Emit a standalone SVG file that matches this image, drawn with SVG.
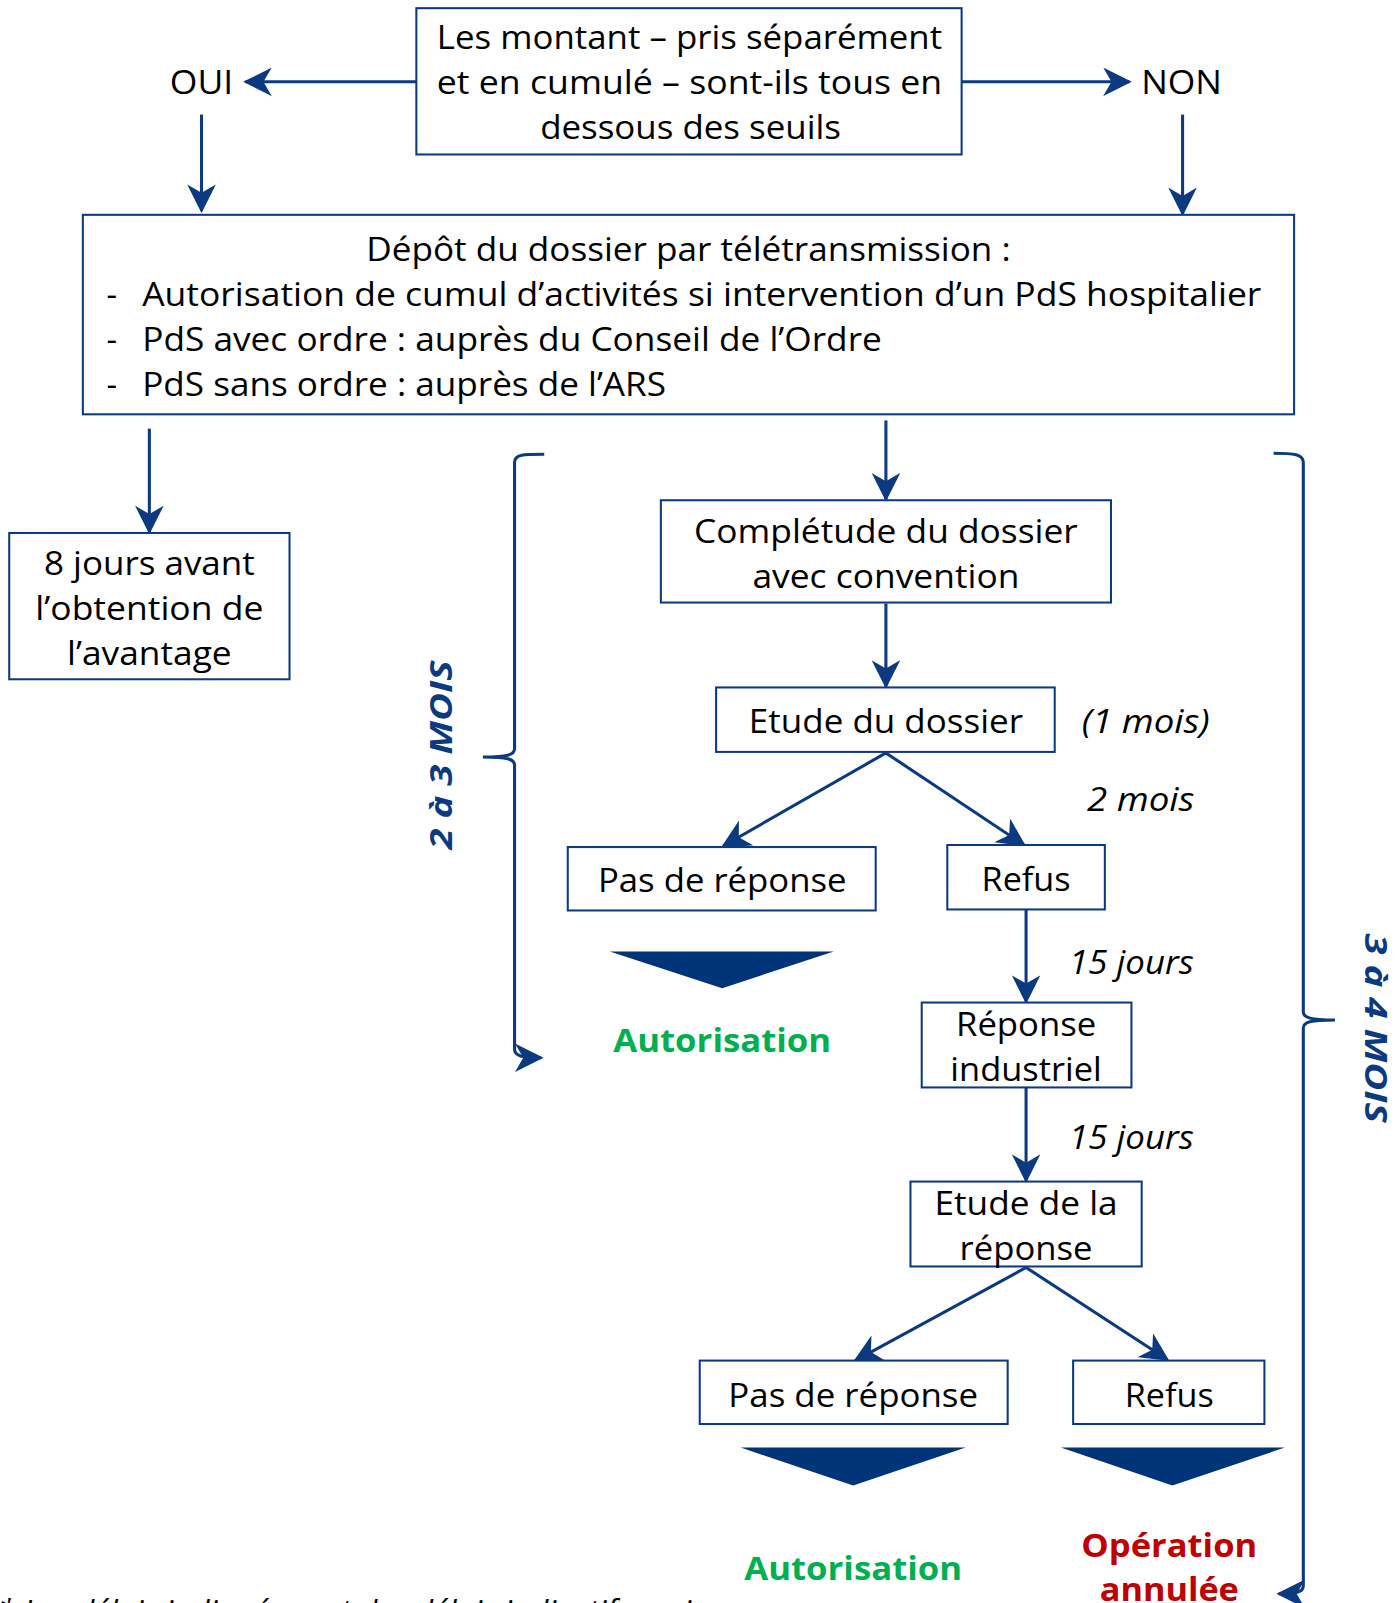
<svg xmlns="http://www.w3.org/2000/svg" width="1396" height="1603" viewBox="0 0 1396 1603">
<defs>
<style>
.box{fill:#ffffff;stroke:#0B3A80;stroke-width:2}
.t{font-family:"Open Sans","Noto Sans","Liberation Sans",sans-serif;font-size:32px;fill:#000;text-anchor:middle}
.l{text-anchor:start}
.i{font-style:italic}
.g{font-weight:bold;fill:#00B050}
.r{font-weight:bold;fill:#C00000}
.m{font-family:"Open Sans","Noto Sans","Liberation Sans",sans-serif;font-size:30px;font-weight:bold;font-style:italic;fill:#0B3A80;text-anchor:middle}
.c{fill:none;stroke:#0B3A80;stroke-width:3}
.tri{fill:#003478}
</style>
<marker id="ahb" viewBox="0 0 12 12" refX="11" refY="6" markerWidth="28" markerHeight="28" markerUnits="userSpaceOnUse" orient="auto">
<path d="M0,0 L12,6 L0,12 L3.5,6 z" fill="#0B3A80"/>
</marker>
</defs>
<g transform="scale(1.023)">
<g id="connectors">
<line class="c" x1="407" y1="80" x2="240" y2="80" marker-end="url(#ahb)"/>
<line class="c" x1="940" y1="80" x2="1104" y2="80" marker-end="url(#ahb)"/>
<line class="c" x1="197" y1="112" x2="197" y2="206" marker-end="url(#ahb)"/>
<line class="c" x1="1156" y1="112" x2="1156" y2="209" marker-end="url(#ahb)"/>
<line class="c" x1="146" y1="419" x2="146" y2="520" marker-end="url(#ahb)"/>
<line class="c" x1="866" y1="411" x2="866" y2="488" marker-end="url(#ahb)"/>
<line class="c" x1="866" y1="590" x2="866" y2="671" marker-end="url(#ahb)"/>
<line class="c" x1="866" y1="736" x2="707" y2="827" marker-end="url(#ahb)"/>
<line class="c" x1="866" y1="736" x2="1001" y2="826" marker-end="url(#ahb)"/>
<line class="c" x1="1003" y1="889" x2="1003" y2="979" marker-end="url(#ahb)"/>
<line class="c" x1="1003" y1="1063" x2="1003" y2="1154" marker-end="url(#ahb)"/>
<line class="c" x1="1003" y1="1239" x2="836" y2="1330" marker-end="url(#ahb)"/>
<line class="c" x1="1003" y1="1239" x2="1141" y2="1329" marker-end="url(#ahb)"/>
<path class="c" d="M532,444 C512,444 503,444 503,452 L503,732 C503,738 496,740 472,740 C496,740 503,742 503,748 L503,1026 C503,1032 510,1034 529,1034" marker-end="url(#ahb)"/>
<path class="c" d="M1245,443 C1265,443 1274,444 1274,452 L1274,989 C1274,995 1281,997 1305,997 C1281,997 1274,999 1274,1005 L1274,1550 C1274,1556 1268,1558 1250,1558" marker-end="url(#ahb)"/>
</g>

<g id="question">
<rect class="box" x="407" y="8" width="533" height="143"/>
<text class="t" x="674" y="48" textLength="494" lengthAdjust="spacingAndGlyphs">Les montant – pris séparément</text>
<text class="t" x="674" y="92" textLength="494" lengthAdjust="spacingAndGlyphs">et en cumulé – sont-ils tous en</text>
<text class="t" x="675" y="136" textLength="294" lengthAdjust="spacingAndGlyphs">dessous des seuils</text>
</g>
<g id="oui"><text class="t" x="197" y="92" textLength="62" lengthAdjust="spacingAndGlyphs">OUI</text></g>
<g id="non"><text class="t" x="1155" y="92" textLength="79" lengthAdjust="spacingAndGlyphs">NON</text></g>

<g id="depot">
<rect class="box" x="81" y="210" width="1184" height="195"/>
<text class="t" x="673" y="255" textLength="630" lengthAdjust="spacingAndGlyphs">Dépôt du dossier par télétransmission :</text>
<text class="t l" x="104" y="299">-</text>
<text class="t l" x="139" y="299" textLength="1094" lengthAdjust="spacingAndGlyphs">Autorisation de cumul d’activités si intervention d’un PdS hospitalier</text>
<text class="t l" x="104" y="343">-</text>
<text class="t l" x="139" y="343" textLength="723" lengthAdjust="spacingAndGlyphs">PdS avec ordre : auprès du Conseil de l’Ordre</text>
<text class="t l" x="104" y="387">-</text>
<text class="t l" x="139" y="387" textLength="512" lengthAdjust="spacingAndGlyphs">PdS sans ordre : auprès de l’ARS</text>
</g>

<g id="huit-jours">
<rect class="box" x="9" y="521" width="274" height="143"/>
<text class="t" x="146" y="562" textLength="206" lengthAdjust="spacingAndGlyphs">8 jours avant</text>
<text class="t" x="146" y="606" textLength="223" lengthAdjust="spacingAndGlyphs">l’obtention de</text>
<text class="t" x="146" y="650" textLength="161" lengthAdjust="spacingAndGlyphs">l’avantage</text>
</g>

<g id="completude">
<rect class="box" x="646" y="489" width="440" height="100"/>
<text class="t" x="866" y="531" textLength="375" lengthAdjust="spacingAndGlyphs">Complétude du dossier</text>
<text class="t" x="866" y="575" textLength="261" lengthAdjust="spacingAndGlyphs">avec convention</text>
</g>

<g id="etude-dossier">
<rect class="box" x="700" y="672" width="331" height="63"/>
<text class="t" x="866" y="717" textLength="268" lengthAdjust="spacingAndGlyphs">Etude du dossier</text>
</g>
<g id="un-mois"><text class="t i" x="1120" y="717" textLength="125" lengthAdjust="spacingAndGlyphs">(1 mois)</text></g>
<g id="deux-mois"><text class="t i" x="1115" y="793" textLength="105" lengthAdjust="spacingAndGlyphs">2 mois</text></g>

<g id="pas-reponse-1">
<rect class="box" x="555" y="828" width="301" height="62"/>
<text class="t" x="706" y="872" textLength="243" lengthAdjust="spacingAndGlyphs">Pas de réponse</text>
</g>
<g id="refus-1">
<rect class="box" x="926" y="826" width="154" height="63"/>
<text class="t" x="1003" y="871" textLength="87" lengthAdjust="spacingAndGlyphs">Refus</text>
</g>

<g id="autorisation-1">
<polygon class="tri" points="596,930 815,930 706,966"/>
<text class="t g" x="706" y="1028" textLength="213" lengthAdjust="spacingAndGlyphs">Autorisation</text>
</g>

<g id="quinze-jours-1"><text class="t i" x="1106" y="952" textLength="122" lengthAdjust="spacingAndGlyphs">15 jours</text></g>

<g id="reponse-industriel">
<rect class="box" x="901" y="980" width="205" height="83"/>
<text class="t" x="1003" y="1013" textLength="137" lengthAdjust="spacingAndGlyphs">Réponse</text>
<text class="t" x="1003" y="1057" textLength="148" lengthAdjust="spacingAndGlyphs">industriel</text>
</g>

<g id="quinze-jours-2"><text class="t i" x="1106" y="1123" textLength="122" lengthAdjust="spacingAndGlyphs">15 jours</text></g>

<g id="etude-reponse">
<rect class="box" x="890" y="1155" width="226" height="83"/>
<text class="t" x="1003" y="1188" textLength="179" lengthAdjust="spacingAndGlyphs">Etude de la</text>
<text class="t" x="1003" y="1232" textLength="130" lengthAdjust="spacingAndGlyphs">réponse</text>
</g>

<g id="pas-reponse-2">
<rect class="box" x="684" y="1330" width="301" height="62"/>
<text class="t" x="834" y="1375" textLength="244" lengthAdjust="spacingAndGlyphs">Pas de réponse</text>
</g>
<g id="refus-2">
<rect class="box" x="1049" y="1330" width="187" height="62"/>
<text class="t" x="1143" y="1375" textLength="87" lengthAdjust="spacingAndGlyphs">Refus</text>
</g>

<g id="autorisation-2">
<polygon class="tri" points="724,1415 944,1415 834,1452"/>
<text class="t g" x="834" y="1544" textLength="213" lengthAdjust="spacingAndGlyphs">Autorisation</text>
</g>

<g id="operation-annulee">
<polygon class="tri" points="1037,1415 1256,1415 1146,1452"/>
<text class="t r" x="1143" y="1522" textLength="172" lengthAdjust="spacingAndGlyphs">Opération</text>
<text class="t r" x="1143" y="1565" textLength="136" lengthAdjust="spacingAndGlyphs">annulée</text>
</g>

<g id="duree-2-3">
<text class="m" transform="translate(442,738) rotate(-90)" textLength="185" lengthAdjust="spacingAndGlyphs">2 à 3 MOIS</text>
</g>
<g id="duree-3-4">
<text class="m" transform="translate(1334,1005) rotate(90)" textLength="185" lengthAdjust="spacingAndGlyphs">3 à 4 MOIS</text>
</g>

<g id="note">
<text class="t l i" x="-2" y="1586" style="font-size:30px" textLength="691" lengthAdjust="spacingAndGlyphs">* Les délais indiqués sont des délais indicatifs mais</text>
</g>
</g>
</svg>
